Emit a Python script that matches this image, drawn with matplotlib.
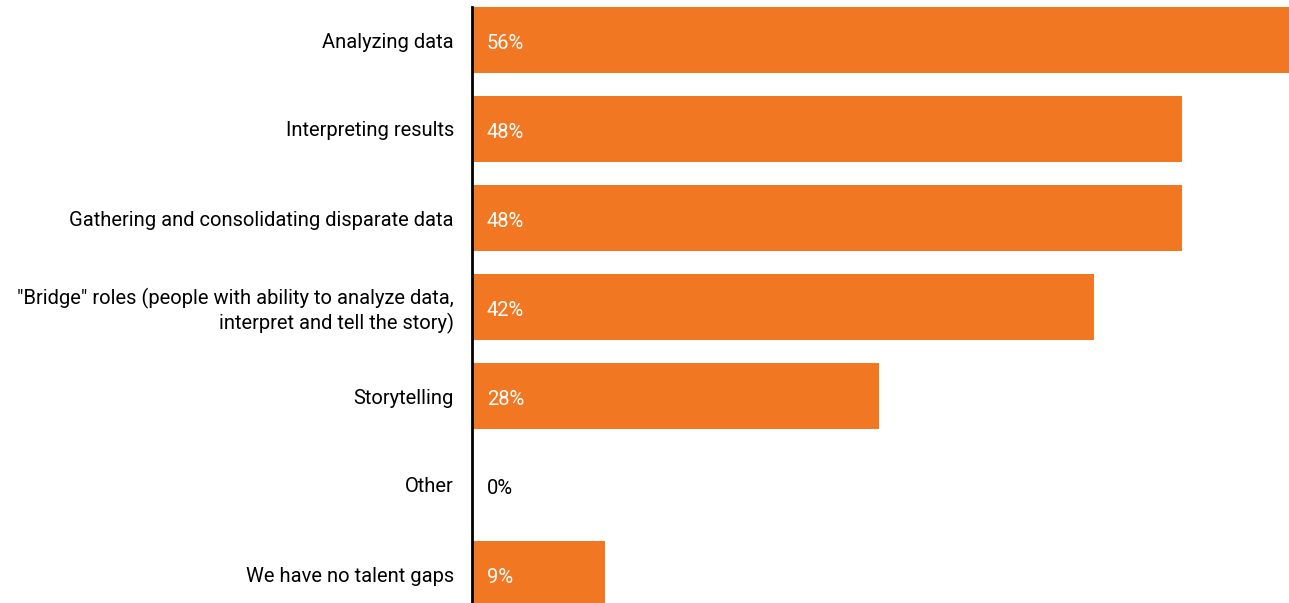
import matplotlib
matplotlib.use("Agg")
import matplotlib.pyplot as plt
from matplotlib import font_manager

categories = [
    "Analyzing data",
    "Interpreting results",
    "Gathering and consolidating disparate data",
    "\"Bridge\" roles (people with ability to analyze data,\ninterpret and tell the story)",
    "Storytelling",
    "Other",
    "We have no talent gaps",
]
values = [56, 48, 48, 42, 27.5, 0, 9]
value_labels = ["56%", "48%", "48%", "42%", "28%", "0%", "9%"]

bar_color = "#F27722"
names = {f.name for f in font_manager.fontManager.ttflist}
font = "Liberation Sans Narrow" if "Liberation Sans Narrow" in names else "Roboto"
plt.rcParams["font.family"] = [font, "DejaVu Sans"]

W, H = 1289, 603
fig = plt.figure(figsize=(W / 100, H / 100), dpi=100)
ax = fig.add_axes([472 / W, 0, 1 - 472 / W, 1])

ypos = list(range(len(categories)))
ax.barh(ypos, values, height=0.742, color=bar_color, align="center")

ax.set_xlim(0, (W - 472) / 14.8)
ax.set_ylim(6 + 29 / 89, -40 / 89)

for y, v, lab in zip(ypos, values, value_labels):
    ax.text(1.0, y + 0.04, lab, ha="left", va="center",
            color="white" if v > 0 else "black", fontsize=14.5)

ax.set_yticks(ypos)
ax.set_yticklabels(categories, fontsize=14.5, linespacing=1.2)
ax.tick_params(axis="y", length=0, pad=13)
ax.set_xticks([])

for s in ["top", "right", "bottom"]:
    ax.spines[s].set_visible(False)
ax.spines["left"].set_linewidth(2)
ax.spines["left"].set_bounds(-0.371, 6 + 29 / 89)

fig.savefig("out.png", dpi=100, facecolor="white")
